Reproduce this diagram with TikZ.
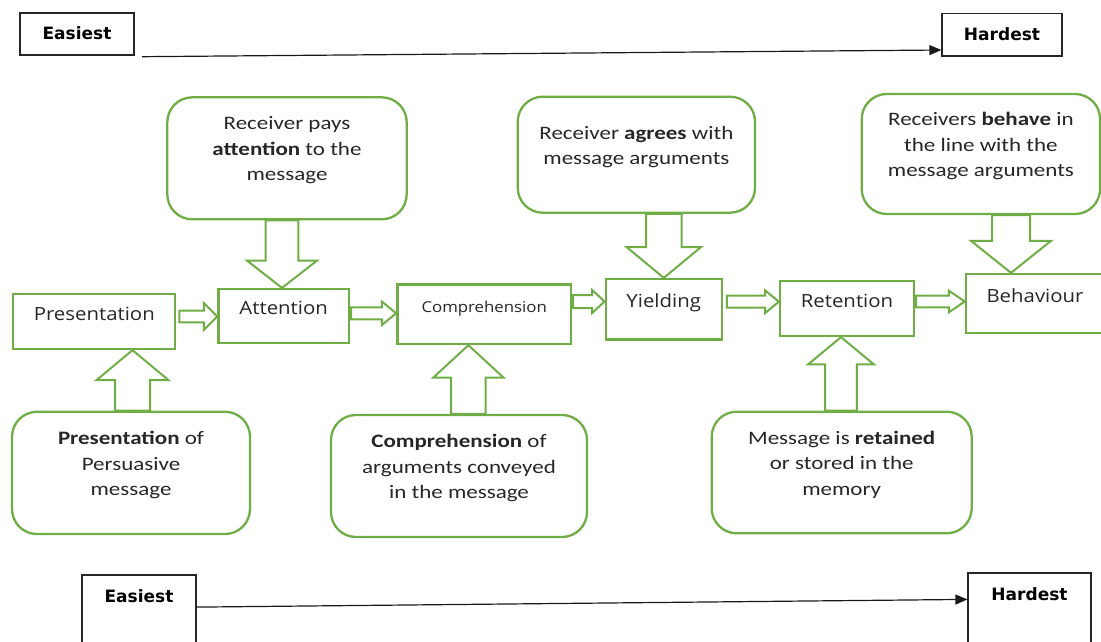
\documentclass[tikz,border=0pt]{standalone}
\usepackage{fontspec}
\setmainfont{Carlito}
\newfontfamily\calloutfont[FakeStretch=1.21]{Carlito}
\newfontfamily\stagefont[FakeStretch=1.12]{Open Sans}
\newfontfamily\endfont{DejaVu Sans}
\usetikzlibrary{arrows.meta,calc}
\definecolor{grn}{HTML}{70AD47}
\tikzset{>={Triangle[length=12pt,width=10pt]},
  stage/.style={draw=grn,line width=2.3pt,text=black!85,font=\stagefont\fontsize{18.2}{22}\selectfont,text height=12pt,text depth=15pt},
  callout/.style={draw=grn,line width=2.3pt,rounded corners=25pt,align=center,text=black!85,font=\calloutfont\fontsize{19}{25.5}\selectfont,text depth=19pt},
  endbox/.style={draw=black!85,line width=1.2pt,font=\endfont\bfseries\fontsize{17}{20}\selectfont,text height=12pt,text depth=1pt},
  endboxlow/.style={endbox,minimum height=110pt,text depth=66.6pt},
  timeline/.style={->,line width=1.2pt,black!90},
  fat/.style={draw=grn,line width=2pt,line join=miter}}
% hollow block arrows: start, tip, shaft half width, head half width, head length
\newcommand\fatv[5]{\draw[fat] let \p1=#1,\p2=#2,\n1={sign(\y2-\y1)*#5} in
  ({\x1-#3pt},\y1) -- ({\x1-#3pt},{\y2-(\n1)*1pt}) -- ({\x1-#4pt},{\y2-(\n1)*1pt}) -- (\x1,\y2)
  -- ({\x1+#4pt},{\y2-(\n1)*1pt}) -- ({\x1+#3pt},{\y2-(\n1)*1pt}) -- ({\x1+#3pt},\y1) -- cycle;}
\newcommand\fath[5]{\draw[fat] let \p1=#1,\p2=#2,\n1={sign(\x2-\x1)*#5} in
  (\x1,{\y1-#3pt}) -- ({\x2-(\n1)*1pt},{\y1-#3pt}) -- ({\x2-(\n1)*1pt},{\y1-#4pt}) -- (\x2,\y1)
  -- ({\x2-(\n1)*1pt},{\y1+#4pt}) -- ({\x2-(\n1)*1pt},{\y1+#3pt}) -- (\x1,{\y1+#3pt}) -- cycle;}

\begin{document}
\begin{tikzpicture}[x=1pt,y=-1pt]
\clip (0,0) rectangle (1101,642);
% easiest to hardest, top
\node[endbox,minimum width=114pt,minimum height=42pt] (easyT) at (77,34) {Easiest};
\node[endbox,minimum width=120pt,minimum height=42.7pt] (hardT) at (1002,34.7) {Hardest};
\coordinate (tstart) at (142,56.7);
\draw[timeline] (tstart) -- ($(hardT.west)+(0,15.3)$);
% stages of persuasion
\foreach \nm/\x/\y/\w/\h/\txt in {pres/94.3/321.5/162/55/Presentation,att/283.7/315.9/130.7/53.7/Attention,
  comp/484.2/314.2/173.7/59.7/{\fontsize{15}{18}\selectfont Comprehension},yield/663.7/309.2/116/60.3/Yielding,
  ret/847/308.5/134/55/Retention,beh/1035/303.5/138/59/Behaviour}
  {\node[stage,minimum width=\w pt,minimum height=\h pt] (\nm) at (\x,\y) {\txt};}
\fath{($(pres.east)+(3,-5)$)}{(att.west)}{5.8}{13.3}{13.3}
\fath{($(att.east)+(1,-2.6)$)}{(comp.west)}{6}{11.7}{14.3}
\fath{($(comp.east)+(1,-12.7)$)}{(yield.west)}{6.5}{11.5}{12.4}
\fath{($(yield.east)+(4,-7.5)$)}{(ret.west)}{6}{11.3}{13.7}
\fath{($(ret.east)+(1,-7)$)}{(beh.west)}{5.8}{10.8}{16}
% what the receiver does
\node[callout,minimum width=239.4pt,minimum height=122pt] (cAtt) at (287,158.3) {Receiver pays\\\textbf{attention} to the\\message};
\node[callout,minimum width=237.3pt,minimum height=116pt] (cYield) at (636.4,154.7) {Receiver \textbf{agrees} with\\message arguments};
\node[callout,minimum width=238.3pt,minimum height=120pt] (cBeh) at (980.9,154) {Receivers \textbf{behave} in\\the line with the\\message arguments};
\node[callout,minimum width=238pt,minimum height=122.3pt] (cPres) at (131,472.9) {\textbf{Presentation} of\\Persuasive\\message};
\node[callout,minimum width=256pt,minimum height=122pt] (cComp) at (459,476) {\textbf{Comprehension} of\\arguments conveyed\\in the message};
\node[callout,minimum width=260pt,minimum height=121.6pt] (cRet) at (841.7,472.5) {Message is \textbf{retained}\\or stored in the\\memory};
\fatv{(cAtt.south -| 282,0)}{(att.north -| 282,0)}{16.3}{35}{27.3}
\fatv{(cYield.south -| 663.8,0)}{(yield.north -| 663.8,0)}{17.8}{37}{30.7}
\fatv{(cBeh.south -| 1011,0)}{(beh.north -| 1011,0)}{19}{40}{32}
\fatv{(cPres.north -| 132.5,0)}{(pres.south -| 132.5,0)}{17.5}{36}{30}
\fatv{(cComp.north -| 468.4,0)}{(comp.south -| 468.4,0)}{17.3}{35}{32.3}
\fatv{(cRet.north -| 841,0)}{(ret.south -| 841,0)}{15.8}{33}{27.3}
% easiest to hardest, bottom
\node[endboxlow,minimum width=114pt] (easyB) at (139,630) {Easiest};
\node[endboxlow,minimum width=123pt] (hardB) at (1029.5,628) {Hardest};
\draw[timeline] ($(easyB.north east)+(0,32.7)$) -- ($(hardB.north west)+(0,27)$);
\end{tikzpicture}
\end{document}
